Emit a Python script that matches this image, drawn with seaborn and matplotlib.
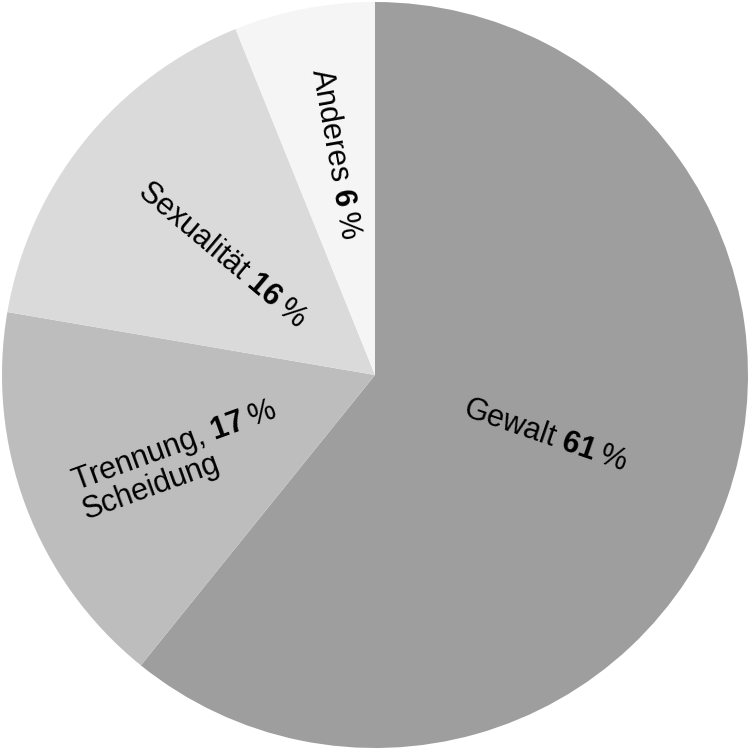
import numpy as np
import matplotlib
matplotlib.use("Agg")
import matplotlib.pyplot as plt
import seaborn as sns

labels = ["Gewalt", "Trennung,\nScheidung", "Sexualität", "Anderes"]
percent_labels = [61, 17, 16, 6]
# slice sizes as measured from the wedge edges (labels are rounded)
shares = [60.8, 16.9, 16.2, 6.1]
colors = ["#9d9e9d", "#bcbdbc", "#d9dad9", "#f4f5f4"]

# label placement (data coords) and rotation
label_x = [0.457, -0.524, -0.411, -0.108]
label_y = [-0.161, -0.228, 0.323, 0.594]
label_rot = [-19, 20, -40, -80]

sns.set_theme(style="white")
plt.rcParams['font.family'] = ['Liberation Sans', 'DejaVu Sans']
plt.rcParams['mathtext.fontset'] = 'custom'
plt.rcParams['mathtext.rm'] = 'Liberation Sans'
plt.rcParams['mathtext.bf'] = 'Liberation Sans:bold'

fig = plt.figure(figsize=(7.48, 7.49), dpi=100)
ax = fig.add_axes([0, 0, 1, 1])
ax.pie(shares, colors=colors, startangle=90, counterclock=False, radius=1,
       wedgeprops=dict(linewidth=0))

for lab, v, x, y, r in zip(labels, percent_labels, label_x, label_y, label_rot):
    if "\n" in lab:
        first, second = lab.split("\n")
        txt = first + " $\\mathbf{" + str(v) + "}$\u2009%\n" + second
    else:
        txt = lab + " $\\mathbf{" + str(v) + "}$\u2009%"
    ax.text(x, y, txt, rotation=r, ha="center", va="center",
            multialignment="left", fontsize=22, color="black", linespacing=0.95)

ax.set_aspect("auto")
ax.set_xlim(-375 / 373, 373 / 373)
ax.set_ylim(-374 / 373, 375 / 373)
ax.axis("off")
fig.savefig("out.png", dpi=100, facecolor="white")
